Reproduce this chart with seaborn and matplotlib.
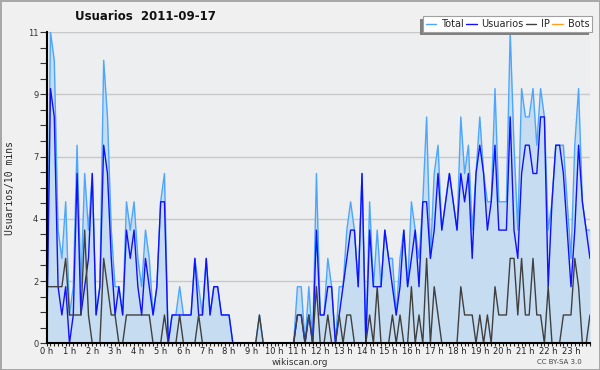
import matplotlib
matplotlib.use('Agg')
import matplotlib.pyplot as plt
from matplotlib.patches import Rectangle
from matplotlib.ticker import FixedLocator, MultipleLocator
import numpy as np
import pandas as pd
import seaborn as sns

# editores por intervalo de 10 minutos (144 intervalos, 0 h -> 23 h 50)
total = [0, 11, 10, 4, 3, 5, 1, 2, 7, 2, 6, 4, 6, 1, 2, 10, 8, 4, 2, 2, 1, 5, 4, 5,
         3, 2, 4, 3, 1, 2, 5, 6, 0, 1, 1, 2, 1, 1, 1, 3, 2, 1, 3, 1, 2, 2, 1, 1,
         1, 0, 0, 0, 0, 0, 0, 0, 1, 0, 0, 0, 0, 0, 0, 0, 0, 0, 2, 2, 0, 2, 0, 6,
         1, 1, 3, 2, 0, 2, 2, 4, 5, 4, 2, 6, 0, 5, 2, 4, 2, 4, 3, 3, 1, 3, 4, 2,
         5, 4, 3, 5, 8, 3, 6, 7, 4, 5, 6, 5, 4, 8, 6, 7, 4, 6, 8, 6, 5, 5, 9, 5,
         5, 5, 11, 7, 4, 9, 8, 8, 9, 7, 9, 8, 4, 5, 7, 7, 7, 5, 3, 7, 9, 5, 4, 4]
usuarios = [0, 9, 8, 2, 1, 2, 0, 1, 6, 1, 2, 3, 6, 1, 2, 7, 6, 3, 1, 2, 1, 4, 3, 4,
            2, 1, 3, 2, 1, 2, 5, 5, 0, 1, 1, 1, 1, 1, 1, 3, 1, 1, 3, 1, 2, 2, 1, 1,
            1, 0, 0, 0, 0, 0, 0, 0, 0, 0, 0, 0, 0, 0, 0, 0, 0, 0, 1, 1, 0, 1, 0, 4,
            1, 1, 2, 2, 0, 1, 2, 3, 4, 4, 2, 6, 0, 4, 2, 2, 2, 4, 3, 2, 1, 2, 4, 2,
            3, 4, 2, 5, 5, 3, 4, 6, 4, 5, 6, 5, 4, 6, 5, 6, 3, 6, 7, 6, 4, 5, 7, 4,
            4, 4, 8, 4, 3, 6, 7, 7, 6, 6, 8, 8, 2, 5, 7, 7, 6, 4, 2, 4, 7, 5, 4, 3]
ip = [2, 2, 2, 2, 2, 3, 1, 1, 1, 1, 4, 1, 0, 0, 0, 3, 2, 1, 1, 0, 0, 1, 1, 1,
      1, 1, 1, 1, 0, 0, 0, 1, 0, 0, 0, 1, 0, 0, 0, 0, 1, 0, 0, 0, 0, 0, 0, 0,
      0, 0, 0, 0, 0, 0, 0, 0, 1, 0, 0, 0, 0, 0, 0, 0, 0, 0, 1, 1, 0, 1, 0, 2,
      0, 0, 1, 0, 0, 1, 0, 1, 1, 0, 0, 0, 0, 1, 0, 2, 0, 0, 0, 1, 0, 1, 0, 0,
      2, 0, 1, 0, 3, 0, 2, 1, 0, 0, 0, 0, 0, 2, 1, 1, 1, 0, 1, 0, 1, 0, 2, 1,
      1, 1, 3, 3, 1, 3, 1, 1, 3, 1, 1, 0, 2, 0, 0, 0, 1, 1, 1, 3, 2, 0, 0, 1]
bots = [0, 0, 0, 0, 0, 0, 0, 0, 0, 0, 0, 0, 0, 0, 0, 0, 0, 0, 0, 0, 0, 0, 0, 0,
        0, 0, 0, 0, 0, 0, 0, 0, 0, 0, 0, 0, 0, 0, 0, 0, 0, 0, 0, 0, 0, 0, 0, 0,
        0, 0, 0, 0, 0, 0, 0, 0, 0, 0, 0, 0, 0, 0, 0, 0, 0, 0, 0, 0, 0, 0, 0, 0,
        0, 0, 0, 0, 0, 0, 0, 0, 0, 0, 0, 0, 0, 0, 0, 0, 0, 0, 0, 0, 0, 0, 0, 0,
        0, 0, 0, 0, 0, 0, 0, 0, 0, 0, 0, 0, 0, 0, 0, 0, 0, 0, 0, 0, 0, 0, 0, 0,
        0, 0, 0, 0, 0, 0, 0, 0, 0, 0, 0, 0, 0, 0, 0, 0, 0, 0, 0, 0, 0, 0, 0, 0]

hour_labels = [f'{h} h' for h in range(24)]
ytick_labels = ['0', '2', '4', '7', '9', '11']

df = pd.DataFrame({'t': np.arange(len(total)), 'Total': total,
                   'Usuarios': usuarios, 'IP': ip, 'Bots': bots})

sns.set_style('white')
plt.rcParams['font.family'] = ['DejaVu Sans']

fig = plt.figure(figsize=(6, 3.7), dpi=100, facecolor='#f0f0f0',
                 edgecolor='#a8a8a8', linewidth=2)
ax = fig.add_axes([0.0778, 0.0722, 0.9055, 0.8413])
ax.set_facecolor('#eceef0')

ax.fill_between(df['t'], df['Total'], color='#c6dcf0', lw=0, zorder=1)
sns.lineplot(data=df, x='t', y='Total', color='#4ca6ff', lw=1.0, ax=ax, label='Total', zorder=2)
sns.lineplot(data=df, x='t', y='Usuarios', color='#1010ff', lw=1.0, ax=ax, label='Usuarios', zorder=2)
sns.lineplot(data=df, x='t', y='IP', color='#404040', lw=1.0, ax=ax, label='IP', zorder=2)
sns.lineplot(data=df, x='t', y='Bots', color='#ffa020', lw=1.0, ax=ax, label='Bots', zorder=2)

ax.set_xlim(0, len(total) - 1)
ax.set_ylim(0, 11)

ax.xaxis.set_major_locator(FixedLocator(np.arange(0, 144, 6)))
ax.set_xticklabels(hour_labels)
ax.xaxis.set_minor_locator(MultipleLocator(1))
yt = np.linspace(0, 11, 6)
ax.set_yticks(yt)
ax.set_yticklabels(ytick_labels)
ax.yaxis.set_minor_locator(MultipleLocator(0.55))

ax.tick_params(axis='x', which='major', direction='out', length=2.5, width=0.8,
               labelsize=6, pad=0.3, colors='#222222', bottom=True)
ax.tick_params(axis='x', which='minor', direction='out', length=2, width=0.8,
               bottom=True, color='#222222')
ax.tick_params(axis='y', which='both', direction='out', length=5, width=0.8,
               labelsize=6, pad=1, colors='#333333', left=True)

ax.grid(axis='y', color='#c8c8c8', lw=1.0)
ax.set_axisbelow(True)
for side in ['top', 'right']:
    ax.spines[side].set_visible(False)
for side in ['left', 'bottom']:
    ax.spines[side].set_color('black')
    ax.spines[side].set_linewidth(1.5)
    ax.spines[side].set_zorder(3)

ax.set_xlabel('')
ax.set_ylabel('Usuarios/10 mins', family='DejaVu Sans Mono', fontsize=7, labelpad=9)

leg = ax.legend(loc='lower right', bbox_to_anchor=(1.004, 1.0), ncol=4, fontsize=7,
                frameon=True, fancybox=False, framealpha=1, edgecolor='#a0a0a0',
                handlelength=1.1, handletextpad=0.5, columnspacing=0.2,
                borderpad=0.3, borderaxespad=0)
leg.get_frame().set_linewidth(0.8)
leg.set_zorder(5)

fig.text(0.242, 0.955, 'Usuarios  2011-09-17', ha='center', va='center',
         fontsize=8.5, fontweight='bold', color='#111111')
fig.text(0.5, 0.021, 'wikiscan.org', ha='center', va='center', fontsize=6.5, color='#333333')
fig.text(0.933, 0.021, 'CC BY-SA 3.0', ha='center', va='center', fontsize=5, color='#444444')

# sombra de la leyenda desplazada abajo a la izquierda
fig.canvas.draw()
bb = leg.get_window_extent()
ax.add_artist(Rectangle((bb.x0 - 3, bb.y0 - 3), bb.width, bb.height, transform=None,
                        facecolor='#808080', edgecolor='none', zorder=4.9, clip_on=False))

fig.savefig('out.png', dpi=100, facecolor=fig.get_facecolor(), edgecolor=fig.get_edgecolor())
